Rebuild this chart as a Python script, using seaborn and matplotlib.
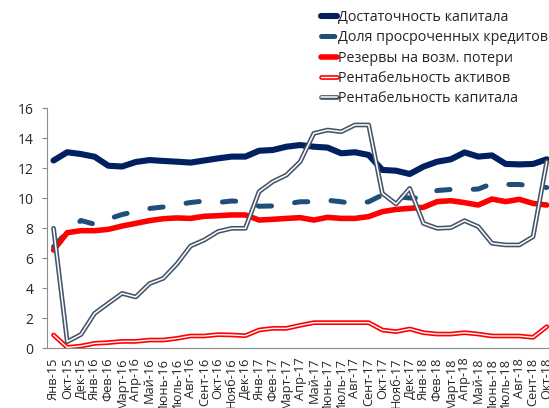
import numpy as np
import seaborn as sns
import matplotlib.pyplot as plt
from matplotlib.legend_handler import HandlerTuple

# month labels on the category axis
months = ["Янв-15", "Окт-15", "Дек-15", "Янв-16", "Фев-16", "Март-16", "Апр-16", "Май-16",
          "Июнь-16", "Июль-16", "Авг-16", "Сент-16", "Окт-16", "Нояб-16", "Дек-16",
          "Янв-17", "Фев-17", "Март-17", "Апр-17", "Май-17", "Июнь-17", "Июль-17", "Авг-17",
          "Сент-17", "Окт-17", "Нояб-17", "Дек-17", "Янв-18", "Фев-18", "Март-18", "Апр-18",
          "Май-18", "Июнь-18", "Июль-18", "Авг-18", "Сент-18", "Окт-18"]

capital = [12.5, 13.05, 12.93, 12.75, 12.15, 12.1, 12.4, 12.53, 12.47, 12.42, 12.36, 12.5,
           12.64, 12.76, 12.76, 13.15, 13.2, 13.42, 13.53, 13.42, 13.36, 12.98, 13.05, 12.87,
           11.87, 11.82, 11.6, 12.09, 12.42, 12.58, 13.04, 12.76, 12.84, 12.27, 12.24, 12.27, 12.58]
overdue = [6.75, 7.75, 8.5, 8.25, 8.6, 8.9, 9.1, 9.3, 9.4, 9.55, 9.7, 9.8, 9.7, 9.8, 9.75,
           9.45, 9.47, 9.6, 9.75, 9.75, 9.85, 9.75, 9.6, 9.75, 10.2, 10.1, 10.0, 10.0, 10.5,
           10.57, 10.55, 10.6, 10.95, 10.9, 10.9, 10.8, 10.7]
reserves = [6.53, 7.69, 7.82, 7.82, 7.91, 8.13, 8.31, 8.49, 8.62, 8.67, 8.64, 8.78, 8.82,
            8.87, 8.87, 8.53, 8.58, 8.64, 8.69, 8.53, 8.71, 8.64, 8.64, 8.76, 9.09, 9.24,
            9.31, 9.38, 9.76, 9.82, 9.69, 9.53, 9.93, 9.76, 9.91, 9.64, 9.53]
roa = [0.87, 0.04, 0.13, 0.31, 0.36, 0.44, 0.44, 0.53, 0.53, 0.64, 0.8, 0.8, 0.89, 0.87,
       0.82, 1.2, 1.31, 1.31, 1.51, 1.69, 1.69, 1.69, 1.69, 1.69, 1.2, 1.09, 1.27, 1.02,
       0.93, 0.93, 1.02, 0.93, 0.8, 0.8, 0.8, 0.71, 1.42]
roe = [7.98, 0.42, 0.9, 2.31, 2.98, 3.64, 3.4, 4.29, 4.64, 5.6, 6.8, 7.2, 7.76, 7.98, 7.98,
       10.42, 11.09, 11.53, 12.42, 14.31, 14.53, 14.42, 14.87, 14.87, 10.31, 9.6, 10.64,
       8.31, 7.98, 8.02, 8.49, 8.09, 6.98, 6.87, 6.87, 7.42, 12.42]

names = ["Достаточность капитала", "Доля просроченных кредитов", "Резервы на возм. потери",
         "Рентабельность активов", "Рентабельность капитала"]

sns.set_style("white")
plt.rcParams['font.family'] = ['Open Sans', 'DejaVu Sans']

fig = plt.figure(figsize=(5.49, 4.08), dpi=100)
ax = fig.add_axes([46.7 / 549, 60 / 408, 506.9 / 549, 240 / 408])
x = np.arange(len(months))

rnd = dict(solid_joinstyle='round', solid_capstyle='round')

sns.lineplot(x=x, y=capital, ax=ax, color='#002060', linewidth=4.4, **rnd)
h1 = ax.lines[-1]
sns.lineplot(x=x, y=overdue, ax=ax, color='#1F4E79', linewidth=3.6,
             linestyle=(0, (2.66, 4.66)), dash_capstyle='round')
h2 = ax.lines[-1]
sns.lineplot(x=x, y=reserves, ax=ax, color='#FF0000', linewidth=4.0, **rnd)
h3 = ax.lines[-1]
# double lines: thick colour + thin white core
sns.lineplot(x=x, y=roa, ax=ax, color='#FF0000', linewidth=3.4, **rnd)
h4a = ax.lines[-1]
sns.lineplot(x=x, y=roa, ax=ax, color='white', linewidth=1.0, **rnd)
h4b = ax.lines[-1]
sns.lineplot(x=x, y=roe, ax=ax, color='#44546A', linewidth=3.4, **rnd)
h5a = ax.lines[-1]
sns.lineplot(x=x, y=roe, ax=ax, color='white', linewidth=1.1, **rnd)
h5b = ax.lines[-1]

ax.set_xlim(-0.5, len(months) - 0.5)
ax.set_ylim(0, 16)
ax.set_yticks(range(0, 17, 2))
ax.set_xticks(x)
ax.set_xticklabels(months, rotation=90, fontsize=9.2)
ax.set_xticks(np.arange(-0.5, len(months), 1), minor=True)
ax.tick_params(axis='x', which='major', length=0, pad=7)
ax.tick_params(axis='x', which='minor', length=3.5, width=0.8, color='#8c8c8c', direction='out')
ax.tick_params(axis='y', length=3.5, width=0.8, color='#8c8c8c', direction='out',
               labelsize=10, pad=6, left=True)

for s in ['top', 'right']:
    ax.spines[s].set_visible(False)
for s in ['left', 'bottom']:
    ax.spines[s].set_color('#8c8c8c')
    ax.spines[s].set_linewidth(0.8)

ax.legend([h1, h2, h3, (h4a, h4b), (h5a, h5b)], names,
          handler_map={tuple: HandlerTuple(ndivide=1, pad=0)},
          loc='upper left', bbox_to_anchor=(321 / 549, 1 - 10 / 408), bbox_transform=fig.transFigure,
          frameon=False, fontsize=10.3, handlelength=1.1, handletextpad=0.1,
          labelspacing=0.37, borderpad=0, borderaxespad=0)

fig.savefig('out.png', dpi=100)
